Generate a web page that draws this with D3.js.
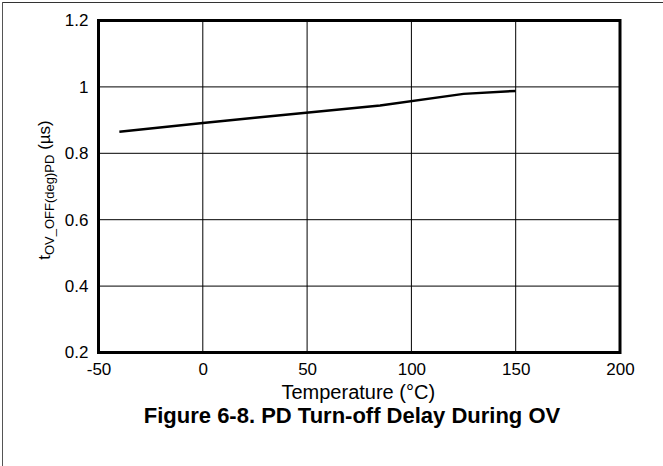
<!DOCTYPE html>
<html><head><meta charset="utf-8">
<script src="https://cdn.jsdelivr.net/npm/d3@7"></script>
<style>body{margin:0;background:#fff}svg{display:block}</style>
</head><body>
<script>
const temperature = [-40, 0, 25, 85, 125, 150];
const delay = [0.865, 0.891, 0.907, 0.944, 0.979, 0.988];
const xTicks = [-50, 0, 50, 100, 150, 200];
const yTicks = [0.2, 0.4, 0.6, 0.8, 1, 1.2];

const W = 663, H = 466;
const m = {l: 98.5, r: 620, t: 20.5, b: 352.5};
const svg = d3.select("body").append("svg").attr("width", W).attr("height", H);
const font = "Arial, 'Liberation Sans', sans-serif";

// frame
svg.append("line").attr("x1", 2).attr("x2", W).attr("y1", 2.5).attr("y2", 2.5).attr("stroke", "#333").attr("stroke-width", 1);
svg.append("line").attr("x1", 2.5).attr("x2", 2.5).attr("y1", 2).attr("y2", H).attr("stroke", "#555").attr("stroke-width", 1);

const x = d3.scaleLinear().domain([-50, 200]).range([m.l, m.r]);
const y = d3.scaleLinear().domain([0.2, 1.2]).range([m.b, m.t]);

// grid
const g = svg.append("g");
g.selectAll(".vg").data(xTicks.slice(1, -1)).join("line")
  .attr("x1", d => x(d)).attr("x2", d => x(d)).attr("y1", m.t).attr("y2", m.b)
  .attr("stroke", "#000").attr("stroke-width", 1);
g.selectAll(".hg").data(yTicks.slice(1, -1)).join("line")
  .attr("y1", d => y(d)).attr("y2", d => y(d)).attr("x1", m.l).attr("x2", m.r)
  .attr("stroke", "#000").attr("stroke-width", 1);

// axes labels via d3 axes
const xAxis = svg.append("g").attr("transform", `translate(0,${m.b})`)
  .call(d3.axisBottom(x).tickValues(xTicks).tickSize(0).tickPadding(10).tickFormat(d => String(d)));
xAxis.select(".domain").remove();
xAxis.selectAll("text").attr("font-family", font).attr("font-size", 17).attr("fill", "#000");

const yAxis = svg.append("g").attr("transform", `translate(${m.l},0)`)
  .call(d3.axisLeft(y).tickValues(yTicks).tickSize(0).tickPadding(10).tickFormat(d => String(+d.toFixed(1))));
yAxis.select(".domain").remove();
yAxis.selectAll("text").attr("font-family", font).attr("font-size", 17).attr("fill", "#000");

// plot border
svg.append("rect").attr("x", m.l).attr("y", m.t).attr("width", m.r - m.l).attr("height", m.b - m.t)
  .attr("fill", "none").attr("stroke", "#000").attr("stroke-width", 3);

// data line
svg.append("path").datum(temperature.map((t, i) => [t, delay[i]]))
  .attr("d", d3.line().x(d => x(d[0])).y(d => y(d[1])))
  .attr("fill", "none").attr("stroke", "#000").attr("stroke-width", 2.5);

// axis titles
svg.append("text").attr("x", (m.l + m.r) / 2 - 1).attr("y", 399).attr("text-anchor", "middle")
  .attr("font-family", font).attr("font-size", 20).text("Temperature (°C)");

const yt = svg.append("text").attr("transform", `translate(50,190) rotate(-90)`)
  .attr("text-anchor", "middle").attr("font-family", font).attr("font-size", 17);
yt.append("tspan").text("t");
yt.append("tspan").attr("font-size", 13).attr("dy", 4).text("OV_OFF(deg)PD");
yt.append("tspan").attr("dy", -4).text(" (µs)");

svg.append("text").attr("x", 352).attr("y", 423).attr("text-anchor", "middle")
  .attr("font-family", font).attr("font-size", 22).attr("font-weight", "bold")
  .text("Figure 6-8. PD Turn-off Delay During OV");
</script>
</body></html>
